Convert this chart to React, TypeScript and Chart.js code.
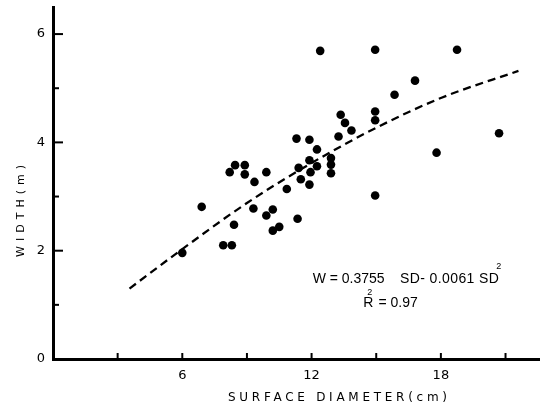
import React, { useEffect, useRef } from 'react';
import { Chart, registerables } from 'chart.js';

Chart.register(...registerables);

// Observed data (surface diameter in cm, width in m)
const surfaceDiameter = [
  6.0, 6.9, 7.9, 8.3, 8.4, 8.2, 8.45, 8.9, 8.9, 9.35, 9.3, 9.9, 9.9, 10.2, 10.2,
  10.5, 10.85, 11.35, 11.3, 11.4, 11.5, 11.9, 11.9, 11.95, 11.9, 12.25, 12.25,
  12.9, 12.9, 12.9, 12.4, 13.25, 13.35, 13.55, 13.85, 14.95, 14.95, 14.95, 14.95,
  15.85, 16.8, 17.8, 18.75, 20.7,
];
const widthValues = [
  1.96, 2.81, 2.1, 2.1, 2.48, 3.45, 3.58, 3.58, 3.41, 3.27, 2.78, 3.45, 2.65, 2.76, 2.37,
  2.44, 3.14, 2.59, 4.07, 3.53, 3.32, 4.05, 3.67, 3.45, 3.22, 3.87, 3.56,
  3.71, 3.59, 3.43, 5.69, 4.11, 4.51, 4.36, 4.22, 5.71, 4.57, 4.41, 3.02,
  4.88, 5.14, 3.81, 5.71, 4.17,
];

// Fitted curve
const fitDiameter = [3.55, 6, 9, 12, 15, 18, 21.6];
const fitWidth = [1.3, 2.03, 2.88, 3.62, 4.27, 4.82, 5.32];

const xTickValues = [3, 6, 9, 12, 15, 18, 21];
const xLabeled = [6, 12, 18];
const yTickValues = [1, 2, 3, 4, 5, 6];
const yLabeled = [0, 2, 4, 6];

const xTitle = 'SURFACE DIAMETER(cm)';
const yTitle = 'WIDTH(m)';
const eqPart1 = 'W = 0.3755';
const eqPart2 = 'SD- 0.0061 SD';
const r2Label = 'R';
const r2Value = '= 0.97';
const superscript = '2';

const decorPlugin = {
  id: 'decor',
  afterDraw(chart: any) {
    const { ctx, chartArea, scales } = chart;
    const x = scales.x;
    const y = scales.y;
    ctx.save();
    ctx.strokeStyle = '#000';
    ctx.fillStyle = '#000';
    ctx.lineWidth = 2;
    // inner tick marks
    yTickValues.forEach((v) => {
      const py = y.getPixelForValue(v);
      const len = yLabeled.includes(v) ? 10 : 6;
      ctx.beginPath();
      ctx.moveTo(chartArea.left, py);
      ctx.lineTo(chartArea.left + len, py);
      ctx.stroke();
    });
    xTickValues.forEach((v) => {
      const px = x.getPixelForValue(v);
      ctx.beginPath();
      ctx.moveTo(px, chartArea.bottom);
      ctx.lineTo(px, chartArea.bottom - 6);
      ctx.stroke();
    });

    // x title
    ctx.font = '12px "DejaVu Sans"';
    (ctx as any).letterSpacing = '0px';
    const wx = ctx.measureText(xTitle).width;
    const spX = (219 - wx) / (xTitle.length - 1);
    (ctx as any).letterSpacing = spX + 'px';
    ctx.textAlign = 'left';
    ctx.textBaseline = 'middle';
    ctx.fillText(xTitle, 228, 398);

    // y title
    (ctx as any).letterSpacing = '0px';
    ctx.font = '11px "DejaVu Sans"';
    const wy = ctx.measureText(yTitle).width;
    const spY = (92 - wy) / (yTitle.length - 1);
    (ctx as any).letterSpacing = spY + 'px';
    ctx.save();
    ctx.translate(21, 257);
    ctx.rotate(-Math.PI / 2);
    ctx.textAlign = 'left';
    ctx.textBaseline = 'middle';
    ctx.fillText(yTitle, 0, 0);
    ctx.restore();
    (ctx as any).letterSpacing = '0px';

    // equation annotation
    ctx.font = '14px "Liberation Sans"';
    ctx.textAlign = 'left';
    ctx.textBaseline = 'middle';
    const e1x = x.getPixelForValue(12.05);
    const e1y = y.getPixelForValue(1.48);
    ctx.fillText(eqPart1, e1x, e1y);
    const e2x = x.getPixelForValue(16.1);
    (ctx as any).letterSpacing = '0.4px';
    ctx.fillText(eqPart2, e2x, e1y);
    const w2 = ctx.measureText(eqPart2).width;
    (ctx as any).letterSpacing = '0px';
    ctx.font = '9px "Liberation Sans"';
    ctx.fillText(superscript, e2x + w2 - 3, e1y - 12);

    ctx.font = '14px "Liberation Sans"';
    const r1x = x.getPixelForValue(14.4);
    const r1y = y.getPixelForValue(1.03);
    ctx.fillText(r2Label, r1x, r1y);
    const wr = ctx.measureText(r2Label).width;
    ctx.font = '9px "Liberation Sans"';
    ctx.fillText(superscript, r1x + 4, r1y - 11);
    ctx.font = '14px "Liberation Sans"';
    ctx.fillText(r2Value, r1x + wr + 5, r1y);
    ctx.restore();
  },
};

export default function App() {
  const canvasRef = useRef<HTMLCanvasElement | null>(null);

  useEffect(() => {
    document.body.style.margin = '0';
    const canvas = canvasRef.current;
    if (!canvas) return;
    const points = surfaceDiameter.map((d, i) => ({ x: d, y: widthValues[i] }));
    const fit = fitDiameter.map((d, i) => ({ x: d, y: fitWidth[i] }));
    const chart = new Chart(canvas, {
      type: 'scatter',
      data: {
        datasets: [
          {
            data: points,
            pointRadius: 4.3,
            pointBackgroundColor: '#000',
            pointBorderWidth: 0,
            showLine: false,
          },
          {
            data: fit,
            showLine: true,
            pointRadius: 0,
            borderColor: '#000',
            borderWidth: 2.3,
            borderDash: [8, 5],
            tension: 0.4,
            cubicInterpolationMode: 'monotone',
            fill: false,
          },
        ],
      },
      options: {
        responsive: false,
        animation: false,
        devicePixelRatio: 1,
        layout: { autoPadding: false, padding: { top: 7, right: 0, left: 0, bottom: 0 } },
        plugins: { legend: { display: false }, tooltip: { enabled: false }, title: { display: false } },
        scales: {
          x: {
            type: 'linear',
            min: 0,
            max: 22.6,
            afterFit: (s: any) => { s.height = 53; s.paddingLeft = 0; s.paddingRight = 0; },
            grid: { display: false, drawTicks: false },
            border: { display: true, color: '#000', width: 3 },
            ticks: {
              stepSize: 3,
              includeBounds: false,
              autoSkip: false,
              maxRotation: 0,
              padding: 9,
              color: '#000',
              font: { family: '"DejaVu Sans"', size: 13 },
              callback: (v: any) => (xLabeled.includes(Number(v)) ? String(v) : ''),
            },
          },
          y: {
            type: 'linear',
            min: 0,
            max: 6.5,
            afterFit: (s: any) => { s.width = 53; s.paddingTop = 0; s.paddingBottom = 0; },
            grid: { display: false, drawTicks: false },
            border: { display: true, color: '#000', width: 3 },
            ticks: {
              stepSize: 1,
              includeBounds: false,
              autoSkip: false,
              padding: 8,
              color: '#000',
              font: { family: '"DejaVu Sans"', size: 13 },
              callback: (v: any) => (yLabeled.includes(Number(v)) ? String(v) : ''),
            },
          },
        },
      },
      plugins: [decorPlugin],
    } as any);
    return () => chart.destroy();
  }, []);

  return (
    <div style={{ width: 540, height: 412 }}>
      <canvas ref={canvasRef} width={540} height={412} style={{ display: 'block' }} />
    </div>
  );
}
